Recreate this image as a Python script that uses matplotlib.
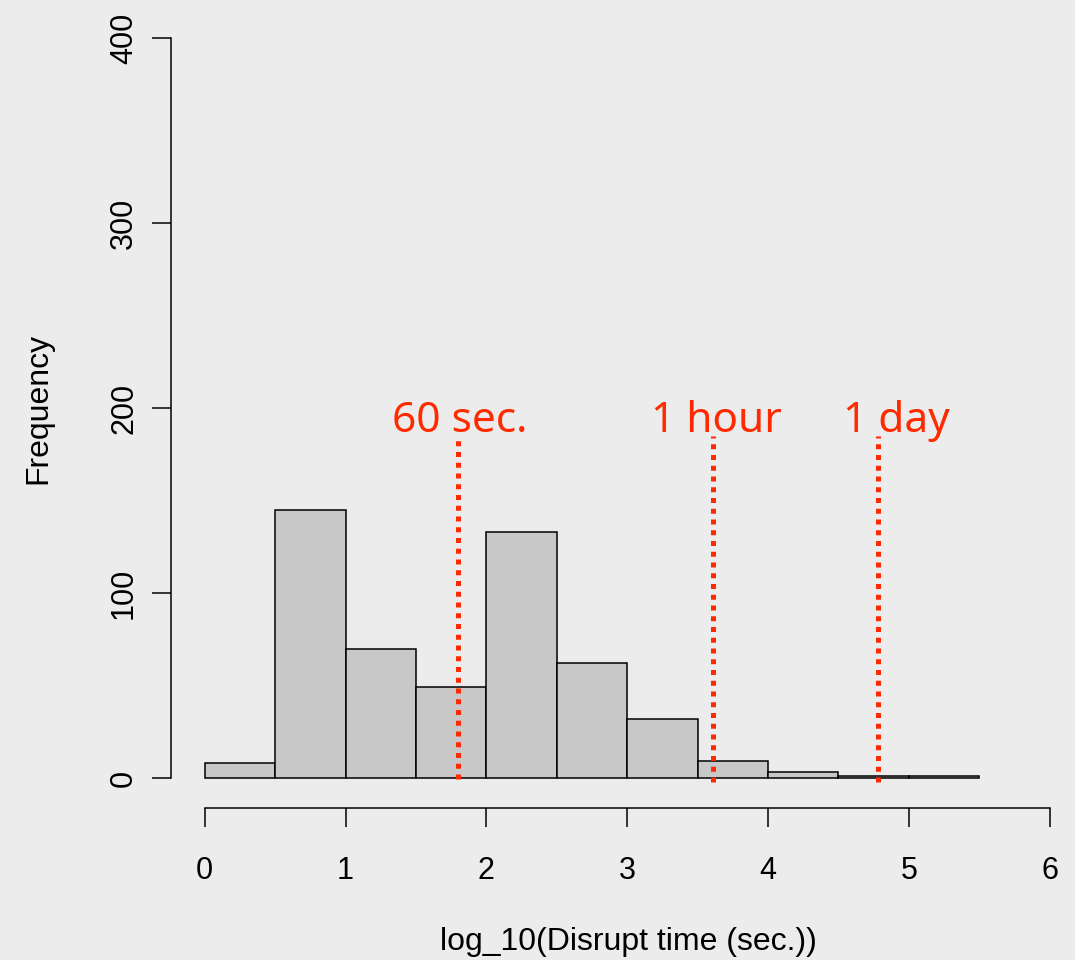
import numpy as np
import matplotlib
matplotlib.use("Agg")
import matplotlib.pyplot as plt

# Histogram of log10 disrupt times (bin width 0.5)
bin_edges = [0.0, 0.5, 1.0, 1.5, 2.0, 2.5, 3.0, 3.5, 4.0, 4.5, 5.0, 5.5]
counts = [8, 145, 70, 49, 133, 62, 32, 9, 3, 1, 1]

# Reference markers
mark_x = [1.80, 3.61, 4.78]
mark_top = 185
mark_labels = ["60 sec.", "1 hour", "1 day"]
label_x = [1.81, 3.63, 4.91]

bg = "#ececec"
red = "#ff2a00"

fig = plt.figure(figsize=(10.75, 9.6), dpi=100, facecolor=bg)
# plot region laid out like R: data range padded 4% on each side
ax = fig.add_axes([171 / 1075, (960 - 807.6) / 960, 912.4 / 1075, 799.2 / 960])
ax.set_facecolor(bg)
ax.set_xlim(-0.24, 6.24)
ax.set_ylim(-16, 416)

widths = np.diff(bin_edges)
ax.bar(bin_edges[:-1], counts, width=widths, align="edge",
       color="#c8c8c8", edgecolor="black", linewidth=1.1, zorder=2)

for i, (mx, lab, lx) in enumerate(zip(mark_x, mark_labels, label_x)):
    y0 = -0.5 if i == 0 else -2
    ax.plot([mx, mx], [y0, mark_top], color=red, linewidth=3.6,
            linestyle=(0, (1, 1.15)), solid_capstyle="butt",
            dash_capstyle="butt", zorder=3)
    ax.text(lx, 187, lab, color=red, fontsize=30.5, family="Noto Sans",
            fontweight="light", ha="center", va="baseline", zorder=4)

for side in ["top", "right"]:
    ax.spines[side].set_visible(False)
ax.spines["left"].set_bounds(0, 400)
ax.spines["bottom"].set_bounds(0, 6)
ax.spines["left"].set_linewidth(1.1)
ax.spines["bottom"].set_linewidth(1.1)

ax.set_xticks(range(0, 7))
ax.set_yticks(range(0, 401, 100))
ax.tick_params(axis="both", direction="out", length=14, width=1.1,
               labelsize=22)
ax.tick_params(axis="x", pad=21)
ax.tick_params(axis="y", pad=9)
for lab in ax.get_yticklabels():
    lab.set_rotation(90)
    lab.set_va("center")
for lab in ax.get_xticklabels() + ax.get_yticklabels():
    lab.set_family("Liberation Sans")

fig.text(38 / 1075, 1 - 408 / 960, "Frequency", rotation=90,
         fontsize=23, family="Liberation Sans", ha="center", va="center")
fig.text(628 / 1075, 1 - 942 / 960, "log_10(Disrupt time (sec.))",
         fontsize=23, family="Liberation Sans", ha="center", va="center")

fig.savefig("out.png", dpi=100, facecolor=bg)
